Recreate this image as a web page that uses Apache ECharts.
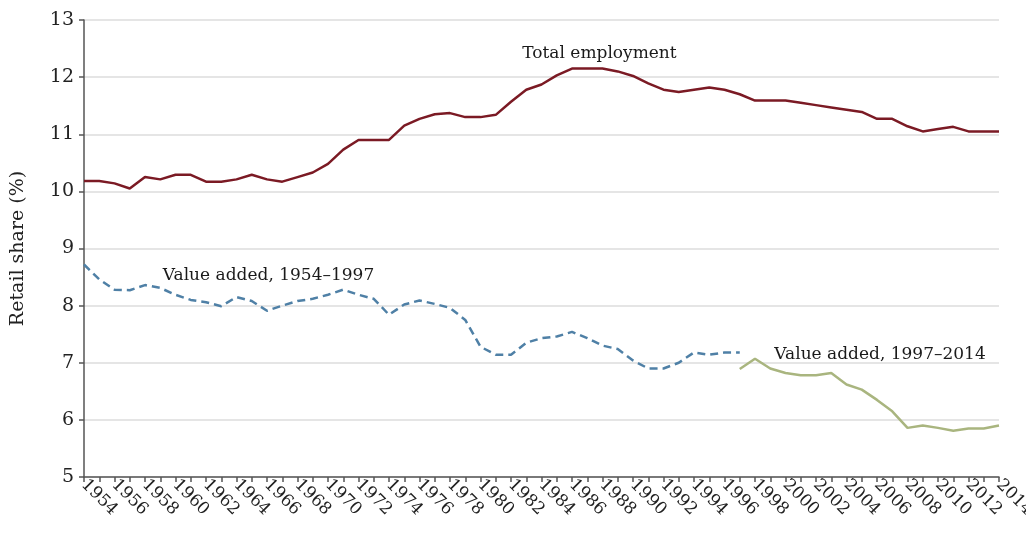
<!DOCTYPE html>
<html>
<head>
<meta charset="utf-8">
<script src="https://cdn.jsdelivr.net/npm/echarts@6/dist/echarts.min.js"></script>
<style>
  html, body { margin: 0; padding: 0; background: #fff; }
  #chart { width: 1026px; height: 534px; }
</style>
</head>
<body>
<div id="chart"></div>
<script>
// Years 1954-2014
var years = [];
for (var y = 1954; y <= 2014; y++) years.push(y);

// Total employment, 1954-2014
var totalEmployment = [
  10.18, 10.18, 10.14, 10.05, 10.25, 10.21, 10.29, 10.29, 10.17, 10.17,
  10.21, 10.29, 10.21, 10.17, 10.25, 10.33, 10.48, 10.73, 10.90, 10.90,
  10.90, 11.15, 11.27, 11.35, 11.37, 11.30, 11.30, 11.34, 11.57, 11.78,
  11.87, 12.03, 12.15, 12.15, 12.15, 12.10, 12.02, 11.89, 11.78, 11.74,
  11.78, 11.82, 11.78, 11.70, 11.59, 11.59, 11.59, 11.55, 11.51, 11.47,
  11.43, 11.39, 11.27, 11.27, 11.14, 11.05, 11.09, 11.13, 11.05, 11.05,
  11.05
];

// Value added, 1954-1997
var valueAddedOld = [
  8.72, 8.46, 8.28, 8.27, 8.36, 8.31, 8.19, 8.10, 8.06, 7.99,
  8.15, 8.08, 7.91, 8.00, 8.08, 8.12, 8.19, 8.28, 8.19, 8.12,
  7.84, 8.02, 8.09, 8.03, 7.96, 7.75, 7.28, 7.14, 7.14, 7.35,
  7.43, 7.46, 7.54, 7.43, 7.30, 7.24, 7.04, 6.90, 6.90, 7.00,
  7.18, 7.14, 7.18, 7.18
];

// Value added, 1997-2014
var valueAddedNew = [
  6.89, 7.07, 6.90, 6.82, 6.78, 6.78, 6.82, 6.62, 6.53, 6.35,
  6.15, 5.86, 5.90, 5.86, 5.81, 5.85, 5.85, 5.90
];

var serif = '"DejaVu Serif", "Liberation Serif", serif';

function pairs(startYear, values) {
  return values.map(function (v, i) { return [startYear + i, v]; });
}

// text note placed at a data coordinate
function note(text, x, y) {
  return {
    silent: true,
    symbol: 'circle',
    symbolSize: 1,
    itemStyle: { color: 'rgba(0,0,0,0)' },
    label: {
      show: true,
      position: 'inside',
      formatter: text,
      color: '#1a1a1a',
      fontFamily: serif,
      fontSize: 17
    },
    data: [{ coord: [x, y] }]
  };
}

var chart = echarts.init(document.getElementById('chart'));

chart.setOption({
  animation: false,
  textStyle: { fontFamily: serif },
  grid: { left: 84, right: 27, top: 20, bottom: 57, outerBoundsMode: 'none', containLabel: false },
  xAxis: {
    type: 'value',
    min: 1954,
    max: 2014,
    interval: 1,
    axisLine: { lineStyle: { color: '#555', width: 1.5 } },
    axisTick: { show: true, length: 5, inside: false, lineStyle: { color: '#555', width: 1.5 } },
    splitLine: { show: false },
    axisLabel: {
      rotate: -45,
      margin: 5,
      color: '#222',
      fontFamily: serif,
      fontSize: 17,
      formatter: function (v) { return v % 2 === 0 ? String(v) : ''; }
    }
  },
  yAxis: {
    type: 'value',
    min: 5,
    max: 13,
    interval: 1,
    name: 'Retail share (%)',
    nameLocation: 'middle',
    nameGap: 56,
    nameTextStyle: { color: '#222', fontFamily: serif, fontSize: 19 },
    axisLine: { show: true, lineStyle: { color: '#555', width: 1.5 } },
    axisTick: { show: true, length: 5, lineStyle: { color: '#555', width: 1.5 } },
    splitLine: { lineStyle: { color: '#dcdcdc', width: 1.5 } },
    axisLabel: { color: '#222', fontFamily: serif, fontSize: 19, margin: 10 }
  },
  series: [
    {
      name: 'Total employment',
      type: 'line',
      data: pairs(1954, totalEmployment),
      showSymbol: false,
      lineStyle: { color: '#7b1a24', width: 2.5 },
      markPoint: note('Total employment', 1987.8, 12.42)
    },
    {
      name: 'Value added, 1954–1997',
      type: 'line',
      data: pairs(1954, valueAddedOld),
      showSymbol: false,
      lineStyle: { color: '#4f80a6', width: 2.5, type: [8, 5] },
      markPoint: note('Value added, 1954–1997', 1966.1, 8.52)
    },
    {
      name: 'Value added, 1997–2014',
      type: 'line',
      data: pairs(1997, valueAddedNew),
      showSymbol: false,
      lineStyle: { color: '#a9b57f', width: 2.5 },
      markPoint: note('Value added, 1997–2014', 2006.2, 7.14)
    }
  ]
});
</script>
</body>
</html>
